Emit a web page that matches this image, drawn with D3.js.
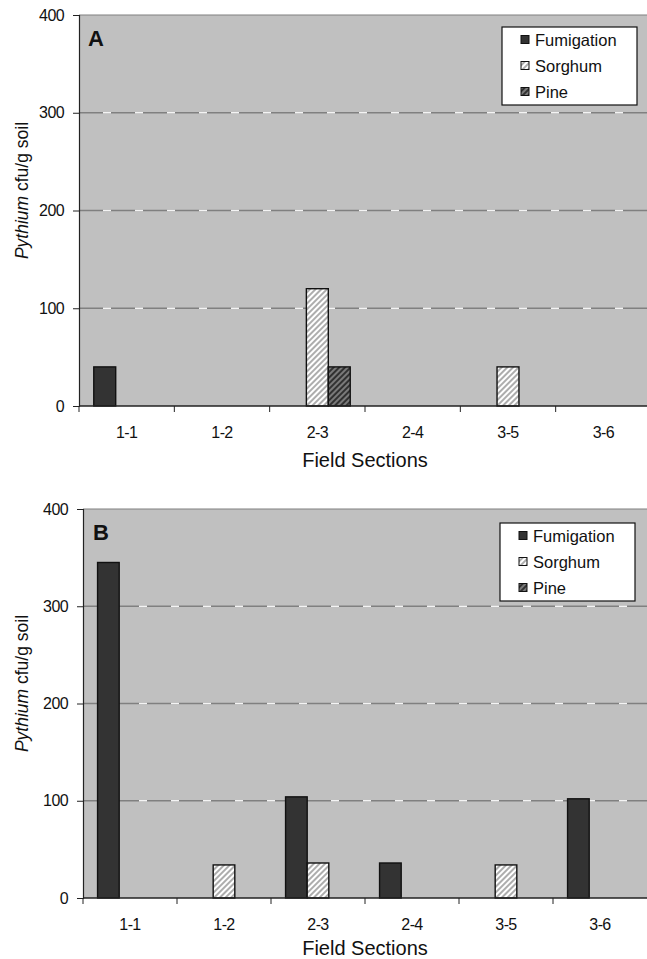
<!DOCTYPE html>
<html>
<head>
<meta charset="utf-8">
<script src="https://cdn.jsdelivr.net/npm/d3@7"></script>
<style>
  body { margin: 0; background: #fff; }
  svg { display: block; font-family: "Liberation Sans", Arial, sans-serif; }
</style>
</head>
<body>
<svg id="chart" width="647" height="959"></svg>
<script>
// data
const sections = ['1-1', '1-2', '2-3', '2-4', '3-5', '3-6'];
const seriesNames = ['Fumigation', 'Sorghum', 'Pine'];
const yTicks = [0, 100, 200, 300, 400];

const fumigationA = [40, 0, 0, 0, 0, 0];
const sorghumA = [0, 0, 120, 0, 40, 0];
const pineA = [0, 0, 40, 0, 0, 0];

const fumigationB = [345, 0, 104, 36, 0, 102];
const sorghumB = [0, 34, 36, 0, 34, 0];
const pineB = [0, 0, 0, 0, 0, 0];

// layout of the two panels
const panels = [
    { name: 'A', series: [fumigationA, sorghumA, pineA], left: 79, right: 651, top: 15, bottom: 406,
      legendX: 502, legendY: 27, labelX: 88, labelY: 46, xTitleY: 467 },
    { name: 'B', series: [fumigationB, sorghumB, pineB], left: 83, right: 647, top: 509, bottom: 898,
      legendX: 500, legendY: 523, labelX: 93, labelY: 540, xTitleY: 955 }
];

const svg = d3.select('#chart');
const defs = svg.append('defs');

// hatch fills
const hatch = (id, bg, line, w) => {
    const p = defs.append('pattern')
        .attr('id', id)
        .attr('width', 4).attr('height', 4)
        .attr('patternUnits', 'userSpaceOnUse')
        .attr('patternTransform', 'rotate(45)');
    p.append('rect').attr('width', 4).attr('height', 4).attr('fill', bg);
    p.append('line').attr('x1', 1).attr('y1', 0).attr('x2', 1).attr('y2', 4)
        .attr('stroke', line).attr('stroke-width', w);
};
hatch('hatchSorghum', '#ffffff', '#8a8a8a', 1.4);
hatch('hatchPine', '#7a7a7a', '#1e1e1e', 1.6);

const fills = ['#333333', 'url(#hatchSorghum)', 'url(#hatchPine)'];

panels.forEach(p => {
    const g = svg.append('g');

    const x = d3.scaleBand().domain(sections).range([p.left, p.right]);
    const inset = x.step() * 0.155;
    const x1 = d3.scaleBand().domain(seriesNames).range([inset, x.step() - inset]);
    const y = d3.scaleLinear().domain([0, 400]).range([p.bottom, p.top]);

    // plot background
    g.append('rect')
        .attr('x', p.left).attr('y', p.top)
        .attr('width', p.right - p.left).attr('height', p.bottom - p.top)
        .attr('fill', '#c0c0c0');
    g.append('line')
        .attr('x1', p.left).attr('x2', p.right)
        .attr('y1', p.top).attr('y2', p.top)
        .attr('stroke', '#808080').attr('stroke-width', 1.2);

    // dashed gridlines: gray line with short white dashes
    const grid = g.append('g');
    grid.selectAll('line.gl')
        .data(yTicks.filter(t => t > 0 && t < 400))
        .join('line')
        .attr('class', 'gl')
        .attr('x1', p.left).attr('x2', p.right)
        .attr('y1', d => y(d)).attr('y2', d => y(d))
        .attr('stroke', '#808080').attr('stroke-width', 1.3);
    grid.selectAll('line.gw')
        .data(yTicks.filter(t => t > 0 && t < 400))
        .join('line')
        .attr('class', 'gw')
        .attr('x1', p.left + 24).attr('x2', p.right)
        .attr('y1', d => y(d)).attr('y2', d => y(d))
        .attr('stroke', '#f4f4f4').attr('stroke-width', 1.3)
        .attr('stroke-dasharray', '8,24');

    // bars
    const rows = sections.map((s, i) => ({
        section: s,
        values: seriesNames.map((n, k) => ({ name: n, k: k, value: p.series[k][i] }))
    }));
    g.selectAll('g.grp')
        .data(rows)
        .join('g')
        .attr('class', 'grp')
        .attr('transform', d => `translate(${x(d.section)},0)`)
        .selectAll('rect')
        .data(d => d.values.filter(v => v.value > 0))
        .join('rect')
        .attr('x', d => x1(d.name))
        .attr('width', x1.bandwidth())
        .attr('y', d => y(d.value))
        .attr('height', d => y(0) - y(d.value))
        .attr('fill', d => fills[d.k])
        .attr('stroke', '#111')
        .attr('stroke-width', 1.4);

    // y axis
    const yAxis = g.append('g')
        .attr('transform', `translate(${p.left},0)`)
        .call(d3.axisLeft(y).tickValues(yTicks).tickSize(6).tickPadding(9).tickFormat(d3.format('d')));
    yAxis.select('.domain').attr('stroke', '#222').attr('stroke-width', 1.2);
    yAxis.selectAll('.tick line').attr('stroke', '#222');
    yAxis.selectAll('text')
        .attr('font-size', 16).attr('letter-spacing', '-0.6px')
        .attr('fill', '#111');

    // x axis: ticks on category boundaries
    g.append('line')
        .attr('x1', p.left).attr('x2', p.right)
        .attr('y1', p.bottom).attr('y2', p.bottom)
        .attr('stroke', '#222').attr('stroke-width', 1.4);
    g.selectAll('line.xt')
        .data(sections)
        .join('line')
        .attr('class', 'xt')
        .attr('x1', d => x(d)).attr('x2', d => x(d))
        .attr('y1', p.bottom).attr('y2', p.bottom + 6)
        .attr('stroke', '#222');
    g.selectAll('text.xl')
        .data(sections)
        .join('text')
        .attr('class', 'xl')
        .attr('x', d => x(d) + x.bandwidth() / 2)
        .attr('y', p.bottom + 31.5)
        .attr('text-anchor', 'middle')
        .attr('font-size', 16).attr('letter-spacing', '-0.6px')
        .attr('fill', '#111')
        .text(d => d);

    // axis titles
    g.append('text')
        .attr('x', (p.left + p.right) / 2)
        .attr('y', p.xTitleY)
        .attr('text-anchor', 'middle')
        .attr('font-size', 20)
        .attr('fill', '#111')
        .text('Field Sections');

    const yt = g.append('text')
        .attr('transform', `translate(28,${(p.top + p.bottom) / 2 - 20}) rotate(-90)`)
        .attr('text-anchor', 'middle')
        .attr('font-size', 17.5)
        .attr('fill', '#111');
    yt.append('tspan').attr('font-style', 'italic').text('Pythium');
    yt.append('tspan').text(' cfu/g soil');

    // panel letter
    g.append('text')
        .attr('x', p.labelX).attr('y', p.labelY)
        .attr('font-size', 22).attr('font-weight', 'bold')
        .attr('fill', '#111')
        .text(p.name);

    // legend
    const lg = g.append('g').attr('transform', `translate(${p.legendX},${p.legendY})`);
    lg.append('rect')
        .attr('width', 135).attr('height', 78)
        .attr('fill', '#fff').attr('stroke', '#111').attr('stroke-width', 1.2);
    const item = lg.selectAll('g.item')
        .data(seriesNames)
        .join('g')
        .attr('class', 'item')
        .attr('transform', (d, i) => `translate(0,${13 + i * 26})`);
    item.append('rect')
        .attr('x', 19).attr('y', -4.5)
        .attr('width', 8).attr('height', 8)
        .attr('fill', (d, i) => fills[i])
        .attr('stroke', '#111').attr('stroke-width', 1);
    item.append('text')
        .attr('x', 33).attr('y', 6)
        .attr('font-size', 16.5)
        .attr('fill', '#111')
        .text(d => d);
});
</script>
</body>
</html>
